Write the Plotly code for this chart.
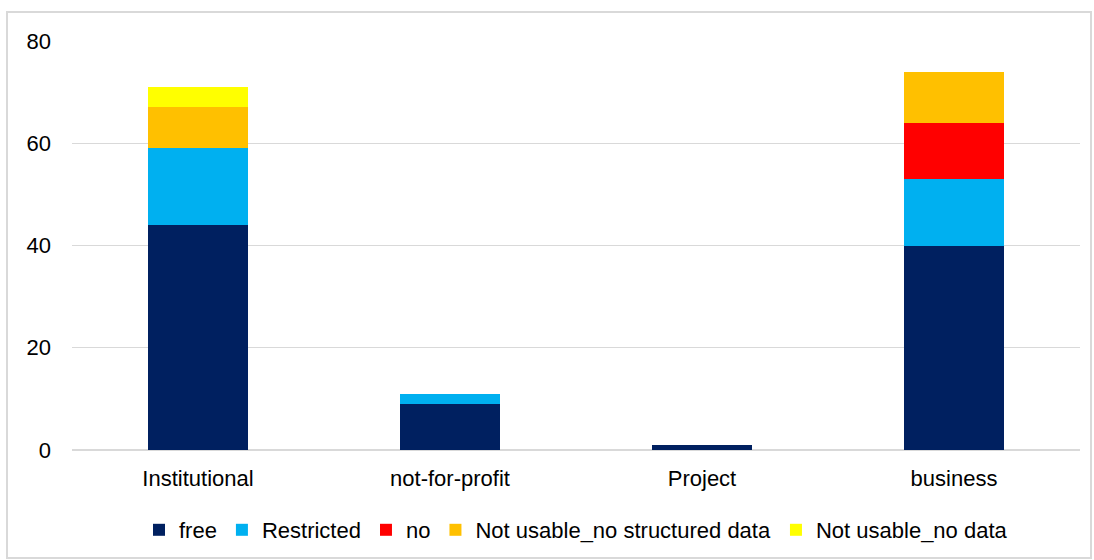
import plotly.graph_objects as go

categories = ["Institutional", "not-for-profit", "Project", "business"]
free = [44, 9, 1, 40]
restricted = [15, 2, 0, 13]
no = [0, 0, 0, 11]
nu_structured = [8, 0, 0, 10]
nu_nodata = [4, 0, 0, 0]

series = [
    ("free", free, "#002060"),
    ("Restricted", restricted, "#00B0F0"),
    ("no", no, "#FF0000"),
    ("Not usable_no structured data", nu_structured, "#FFC000"),
    ("Not usable_no data", nu_nodata, "#FFFF00"),
]

fig = go.Figure()
for name, vals, color in series:
    fig.add_trace(go.Bar(x=categories, y=vals, name=name, marker=dict(color=color, line=dict(width=0))))

W, H = 1094, 560
ml, mr, mt, mb = 72, 14, 41, 110
pw, ph = W - ml - mr, H - mt - mb

fig.update_layout(
    width=W, height=H,
    barmode="stack", bargap=0.6,
    margin=dict(l=ml, r=mr, t=mt, b=mb, autoexpand=False),
    paper_bgcolor="white", plot_bgcolor="white",
    font=dict(family="Liberation Sans, Arial, sans-serif", size=22, color="#000000"),
    xaxis=dict(showgrid=False, showline=False, ticks="", tickfont=dict(size=22), ticklabelstandoff=13),
    yaxis=dict(range=[0, 80], dtick=20, showgrid=True, gridcolor="#D9D9D9", gridwidth=1,
               zeroline=True, zerolinecolor="#D9D9D9", ticks="", ticklabelstandoff=20,
               tickfont=dict(size=22)),
    legend=dict(orientation="h", x=0.5, xanchor="center", y=(450 - 530) / ph, yanchor="middle",
                traceorder="normal", font=dict(size=22), itemwidth=30, tracegroupgap=0),
    shapes=[dict(type="rect", xref="paper", yref="paper",
                 x0=(7 - ml) / pw, x1=(1091 - ml) / pw,
                 y0=(H - mb - 558) / ph, y1=(H - mb - 12) / ph,
                 line=dict(color="#D9D9D9", width=2), fillcolor="rgba(0,0,0,0)", layer="below")],
)

fig.write_html("out.html")
